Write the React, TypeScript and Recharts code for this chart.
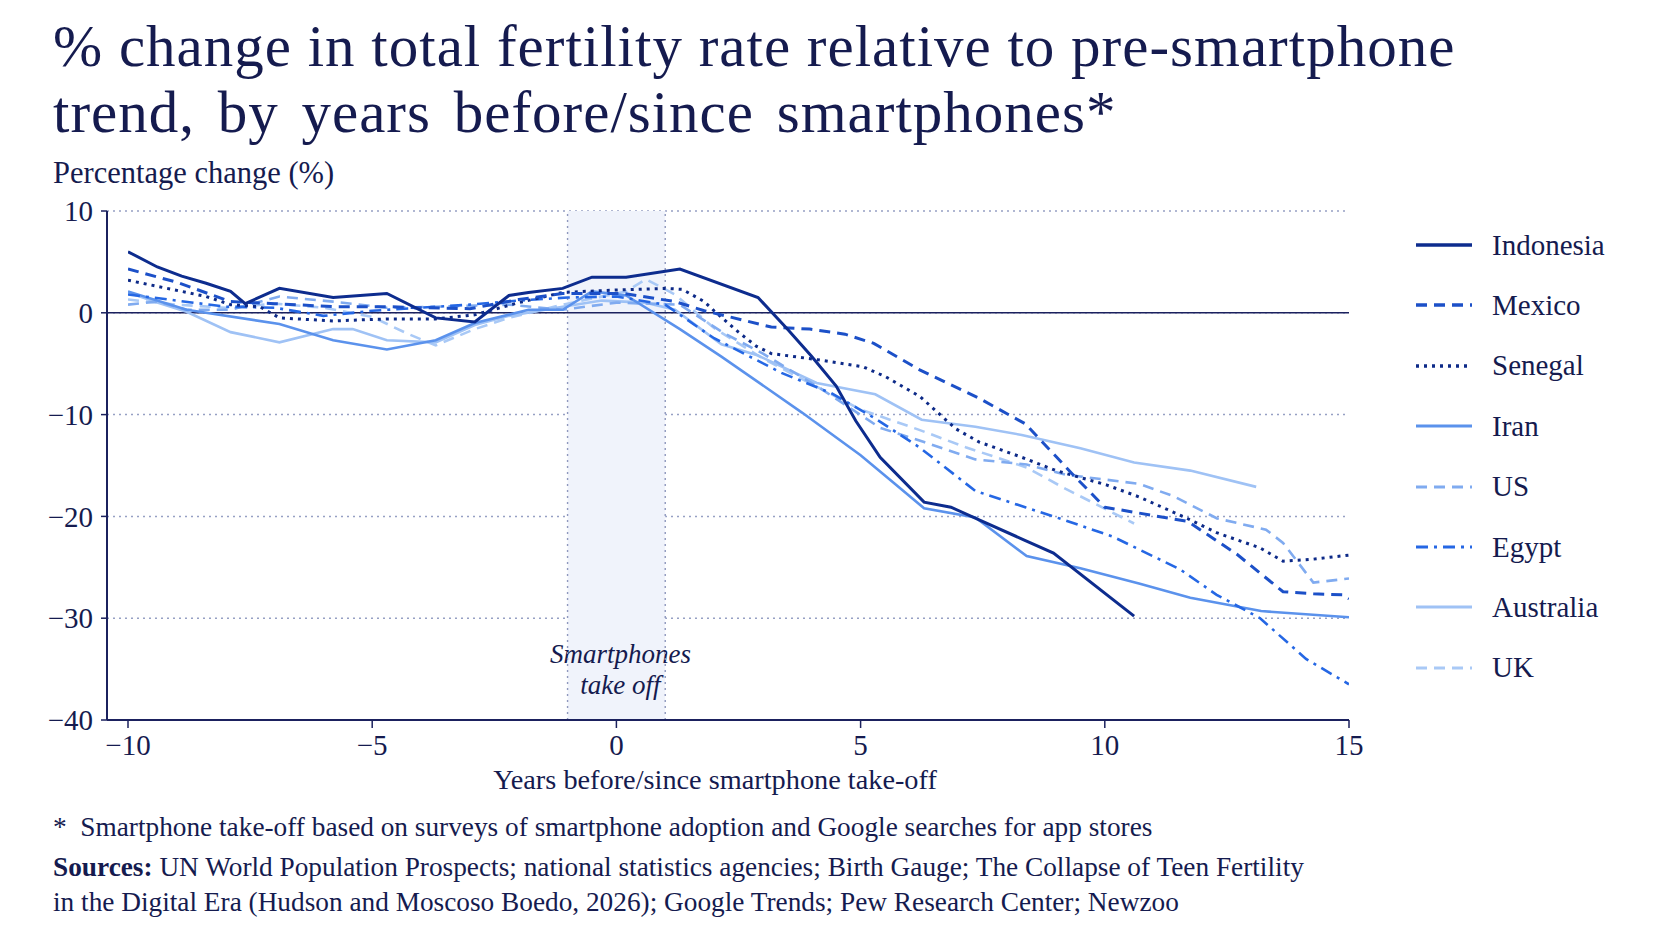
import React from 'react'
import { LineChart, Line, XAxis, YAxis, CartesianGrid, ReferenceLine, ReferenceArea } from 'recharts'

// values: [years since take-off, % change]
const indonesia = [
  [-10, 6.0], [-9.4, 4.5], [-8.9, 3.6], [-8.4, 2.9], [-7.9, 2.1], [-7.6, 0.9], [-6.9, 2.4], [-5.8, 1.5],
  [-4.7, 1.9], [-3.7, -0.5], [-2.9, -0.9], [-2.2, 1.7], [-1.8, 2.0], [-1.1, 2.4], [-0.5, 3.5], [0.2, 3.5],
  [1.3, 4.3], [2.9, 1.5], [3.5, -1.6], [4.0, -4.3], [4.5, -7.2], [4.9, -10.6], [5.4, -14.2], [6.3, -18.6],
  [6.85, -19.1], [7.45, -20.4], [8.34, -22.3], [8.95, -23.6], [10.6, -29.8],
]
const mexico = [
  [-10, 4.3], [-9, 3.0], [-7.9, 1.1], [-7, 0.9], [-5.8, 0.6], [-4.7, 0.6], [-4, 0.5], [-3, 0.4], [-2, 1.3],
  [-1.1, 1.9], [0.15, 1.9], [1.2, 1.1], [1.8, 0.2], [2.66, -0.8], [3.17, -1.4], [3.96, -1.6], [4.68, -2.1],
  [5.27, -3.0], [6.21, -5.6], [7.39, -8.3], [8.37, -10.9], [9.35, -15.9], [10.0, -19.1], [11.7, -20.5],
  [12.7, -23.7], [13.65, -27.4], [14.27, -27.6], [14.88, -27.7], [15, -28.1],
]
const senegal = [
  [-10, 3.2], [-8.4, 1.6], [-7.9, 0.8], [-7.3, 0.6], [-6.9, -0.5], [-5.8, -0.8], [-4.7, -0.6], [-3.7, -0.6],
  [-2.9, -0.2], [-2, 1.0], [-1.1, 2.0], [-0.2, 2.2], [1.0, 2.4], [1.35, 2.3], [1.8, 1.1], [2.0, 0.2],
  [2.5, -1.9], [2.87, -3.3], [3.17, -4.0], [4.11, -4.6], [5.05, -5.3], [5.52, -6.3], [6.21, -8.2],
  [6.95, -11.4], [7.43, -12.7], [8.25, -14.1], [9.0, -15.5], [10.03, -16.9], [10.71, -18.1], [11.6, -20.0],
  [12.29, -21.6], [13.18, -23.1], [13.65, -24.4], [14.27, -24.2], [15, -23.8],
]
const iran = [
  [-10, 2.1], [-8.8, 0.3], [-6.9, -1.1], [-5.8, -2.7], [-4.7, -3.6], [-3.7, -2.7], [-2.9, -1.0], [-1.8, 0.3],
  [-1.1, 0.3], [-0.5, 2.1], [0.2, 1.7], [1.3, -1.6], [2.15, -4.3], [3.8, -9.8], [5.0, -14.0], [5.7, -16.8],
  [6.3, -19.2], [7.35, -20.1], [8.4, -23.9], [9.5, -25.1], [10.7, -26.6], [11.75, -28.0], [13.2, -29.3],
  [15, -29.9],
]
const us = [
  [-10, 0.8], [-9.4, 1.1], [-8.8, 0.3], [-7.9, 0.3], [-6.9, 1.6], [-5.8, 1.1], [-4.7, 0.5], [-3.7, 0.6],
  [-2.2, 0.8], [-1.1, 0.3], [0, 1.0], [1.3, 0.8], [2.2, -2.0], [3.0, -4.0], [4.2, -7.5], [5.4, -11.3],
  [6.3, -12.7], [7.35, -14.4], [8.4, -14.9], [9.2, -15.9], [10.7, -16.8], [11.4, -18.0], [12.3, -20.2],
  [13.3, -21.3], [13.65, -22.6], [14.27, -26.5], [15, -26.1],
]
const egypt = [
  [-10, 1.8], [-9, 1.2], [-8, 0.6], [-7, 0.5], [-6, -0.3], [-5, 0.2], [-4, 0.5], [-3, 0.8], [-2, 1.2],
  [-1, 1.5], [0, 1.6], [1, 0.8], [2, -2.5], [3.38, -5.9], [4.4, -7.9], [5.27, -10.3], [6.2, -13.2],
  [7.35, -17.5], [8.37, -19.1], [9.2, -20.4], [10.17, -22.0], [11.54, -25.2], [12.29, -27.7], [13.18, -30.0],
  [14.12, -34.0], [15, -36.5],
]
const australia = [
  [-10, 2.0], [-9.4, 1.0], [-8.8, 0.1], [-7.9, -1.9], [-6.9, -2.9], [-5.8, -1.6], [-5.4, -1.6], [-4.7, -2.7],
  [-3.7, -2.9], [-2.9, -1.2], [-2.2, -0.3], [-1.1, 0.6], [-0.3, 1.2], [0.6, 1.0], [1.2, 0.3], [2.15, -3.1],
  [2.9, -4.2], [4.1, -6.9], [5.3, -8.0], [6.25, -10.5], [7.35, -11.2], [8.3, -12.0], [9.5, -13.3],
  [10.6, -14.7], [11.75, -15.5], [13.1, -17.1],
]
const uk = [
  [-10, 1.3], [-9, 0.8], [-8, 0.5], [-7, 0.9], [-6, 0.5], [-5, -0.4], [-4.3, -2.0], [-3.7, -3.2], [-2.9, -1.6],
  [-2.2, -0.5], [-1.1, 0.8], [0.2, 2.1], [0.6, 3.3], [1.2, 1.8], [2.0, -1.5], [3.0, -4.5], [4.0, -7.0],
  [5.0, -9.5], [6.2, -11.5], [7.15, -13.2], [8.4, -15.2], [9.2, -17.3], [10.6, -20.7],
]

const countries = ['Indonesia', 'Mexico', 'Senegal', 'Iran', 'US', 'Egypt', 'Australia', 'UK']
const seriesValues = [indonesia, mexico, senegal, iran, us, egypt, australia, uk]
const xTicks = [-10, -5, 0, 5, 10, 15]
const yTicks = [10, 0, -10, -20, -30, -40]

const TEXT = '#151b4f'
const AXIS = '#1b215e'
const FONT = '"Liberation Serif", "Times New Roman", serif'

const lineStyle = {
  Indonesia: { color: '#0d2c8e', dash: undefined, width: 3 },
  Mexico: { color: '#1c50c8', dash: '11 7', width: 3 },
  Senegal: { color: '#0d2a88', dash: '3 5', width: 3 },
  Iran: { color: '#5b92ec', dash: undefined, width: 2.6 },
  US: { color: '#80abf0', dash: '11 7', width: 2.6 },
  Egypt: { color: '#2567e4', dash: '12 6 3 6', width: 2.6 },
  Australia: { color: '#9fc2f5', dash: undefined, width: 2.6 },
  UK: { color: '#a9c9f6', dash: '11 7', width: 2.6 },
}

const drawOrder = ['UK', 'Australia', 'US', 'Iran', 'Egypt', 'Senegal', 'Mexico', 'Indonesia']

const fmt = (v: number) => (v < 0 ? `\u2212${Math.abs(v)}` : `${v}`)

function BandLabel(props: any) {
  const vb = props.viewBox || {}
  const cx = vb.x + vb.width / 2 + 4
  const bottom = vb.y + vb.height
  return (
    <g>
      <text x={cx} y={bottom - 57} textAnchor="middle" fill={TEXT} fontSize={27} fontStyle="italic" fontFamily={FONT}>
        Smartphones
      </text>
      <text x={cx} y={bottom - 26} textAnchor="middle" fill={TEXT} fontSize={27} fontStyle="italic" fontFamily={FONT}>
        take off
      </text>
    </g>
  )
}

function Legend() {
  return (
    <div>
      {countries.map((c, i) => {
        const s = lineStyle[c]
        const cy = 245 + i * 60.4
        return (
          <div key={c} style={{ position: 'absolute', left: 1416, top: cy - 20, height: 40, display: 'flex', alignItems: 'center' }}>
            <svg width={56} height={10} style={{ display: 'block' }}>
              <line x1={0} x2={56} y1={5} y2={5} stroke={s.color} strokeWidth={s.width + 0.4} strokeDasharray={s.dash} />
            </svg>
            <span style={{ marginLeft: 20, fontSize: 29, color: TEXT, whiteSpace: 'nowrap' }}>{c}</span>
          </div>
        )
      })}
    </div>
  )
}

export default function App() {
  const plotTop = 211
  const plotBottom = 720
  const plotLeft = 107
  const plotRight = 1349
  const xAxisH = 60
  const yAxisW = 80

  const title = { position: 'absolute' as const, left: 53, fontSize: 59, lineHeight: '66px', letterSpacing: '1px', whiteSpace: 'nowrap' as const }
  const note = { position: 'absolute' as const, left: 53, fontSize: 27.3, lineHeight: '27px', whiteSpace: 'nowrap' as const }

  return (
    <div style={{ position: 'absolute', left: 0, top: 0, width: 1672, height: 941, background: '#fff', fontFamily: FONT, color: TEXT, overflow: 'hidden' }}>
      <LineChart
        width={1672}
        height={941}
        margin={{ top: plotTop, right: 1672 - plotRight, bottom: 941 - plotBottom - xAxisH, left: plotLeft - yAxisW }}
      >
        <ReferenceArea x1={-1} x2={1} fill="#f0f3fb" fillOpacity={1} stroke="none" label={<BandLabel />} />
        <CartesianGrid vertical={false} stroke="#96a0c4" strokeDasharray="2 4" strokeWidth={1.5} />
        <ReferenceLine x={-1} stroke="#8f98bd" strokeDasharray="2 4" strokeWidth={1.4} />
        <ReferenceLine x={1} stroke="#8f98bd" strokeDasharray="2 4" strokeWidth={1.4} />
        <ReferenceLine y={0} stroke={AXIS} strokeWidth={1.6} />
        <XAxis
          type="number"
          dataKey="x"
          domain={[-10, 15]}
          ticks={xTicks}
          padding={{ left: 21, right: 0 }}
          height={xAxisH}
          allowDataOverflow
          tickFormatter={fmt}
          axisLine={{ stroke: AXIS, strokeWidth: 2 }}
          tickLine={{ stroke: AXIS, strokeWidth: 1.5 }}
          tickSize={8}
          tickMargin={6}
          tick={{ fill: TEXT, fontSize: 29, fontFamily: FONT }}
        />
        <YAxis
          type="number"
          domain={[-40, 10]}
          ticks={yTicks}
          width={yAxisW}
          allowDataOverflow
          tickFormatter={fmt}
          axisLine={{ stroke: AXIS, strokeWidth: 2 }}
          tickLine={{ stroke: AXIS, strokeWidth: 1.5 }}
          tickSize={6}
          tickMargin={8}
          tick={{ fill: TEXT, fontSize: 29, fontFamily: FONT }}
        />
        {drawOrder.map((c) => {
          const s = lineStyle[c]
          const data = seriesValues[countries.indexOf(c)].map(([x, y]) => ({ x, y }))
          return (
            <Line
              key={c}
              name={c}
              data={data}
              dataKey="y"
              type="linear"
              stroke={s.color}
              strokeWidth={s.width}
              strokeDasharray={s.dash}
              dot={false}
              activeDot={false}
              isAnimationActive={false}
            />
          )
        })}
      </LineChart>

      <div style={{ ...title, top: 13 }}>% change in total fertility rate relative to pre-smartphone</div>
      <div style={{ ...title, top: 79, wordSpacing: '7px' }}>trend, by years before/since smartphones*</div>
      <div style={{ position: 'absolute', left: 53, top: 158, fontSize: 30.5, lineHeight: '30px', whiteSpace: 'nowrap' }}>
        Percentage change (%)
      </div>
      <Legend />
      <div style={{ position: 'absolute', left: 715, top: 766, transform: 'translateX(-50%)', fontSize: 28.3, lineHeight: '28px', whiteSpace: 'nowrap' }}>
        Years before/since smartphone take-off
      </div>
      <div style={{ ...note, top: 814 }}>
        *&nbsp; Smartphone take-off based on surveys of smartphone adoption and Google searches for app stores
      </div>
      <div style={{ ...note, top: 854 }}>
        <b>Sources:</b> UN World Population Prospects; national statistics agencies; Birth Gauge; The Collapse of Teen Fertility
      </div>
      <div style={{ ...note, top: 889 }}>
        in the Digital Era (Hudson and Moscoso Boedo, 2026); Google Trends; Pew Research Center; Newzoo
      </div>
    </div>
  )
}
